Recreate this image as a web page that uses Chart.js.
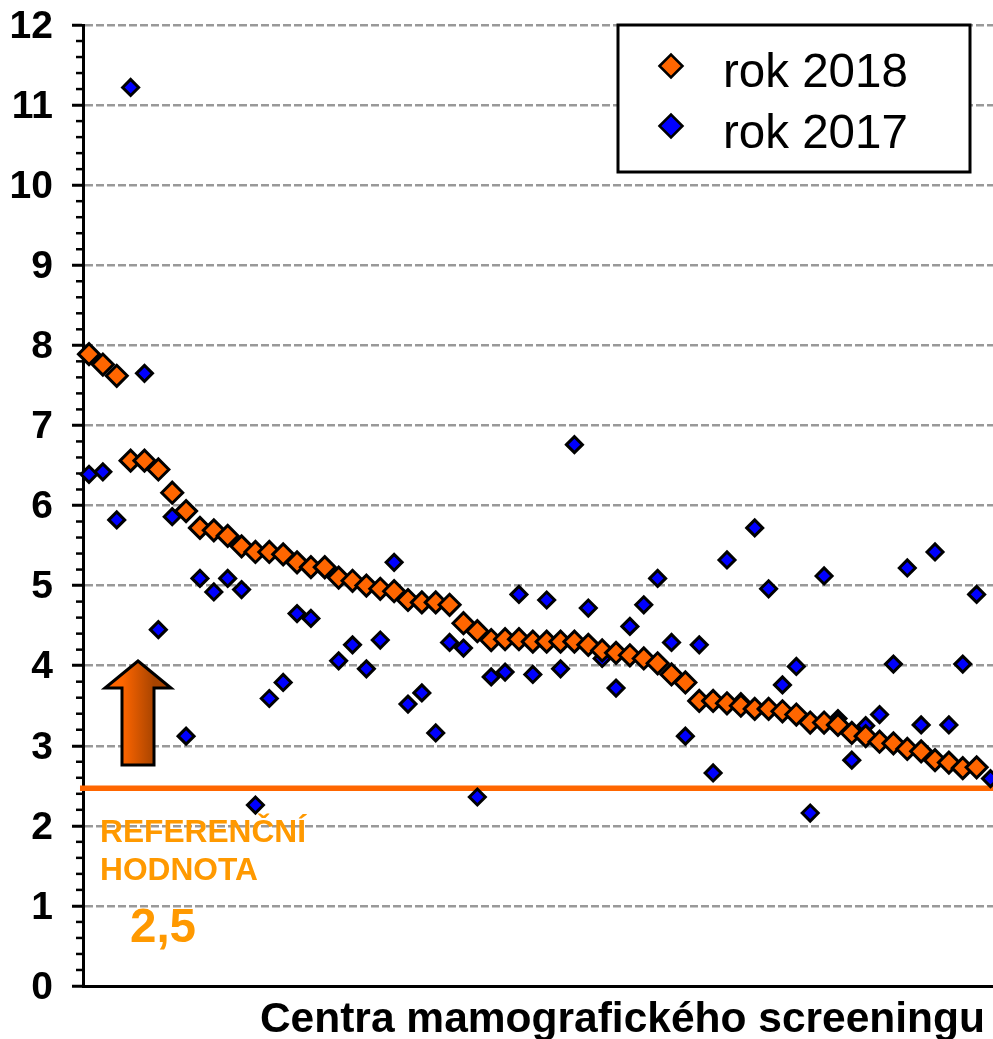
<!DOCTYPE html>
<html>
<head>
<meta charset="utf-8">
<title>Centra mamografického screeningu</title>
<script src="https://cdn.jsdelivr.net/npm/chart.js@4/dist/chart.umd.min.js"></script>
<style>
    html, body { margin: 0; padding: 0; background: #fff; overflow: hidden; }
    canvas { display: block; }
</style>
</head>
<body>
<canvas id="chart" width="993" height="1039"></canvas>
<script>
const seriesNames = ['rok 2018', 'rok 2017'];
const axisTitle = 'Centra mamografického screeningu';
const yTicks = [0, 1, 2, 3, 4, 5, 6, 7, 8, 9, 10, 11, 12];
const referenceValue = 2.47;
const referenceLabels = ['REFERENČNÍ', 'HODNOTA', '2,5'];

// one entry per centre, sorted by the 2018 value
const centres = [
    1, 2, 3, 4, 5, 6, 7, 8, 9, 10, 11, 12, 13, 14, 15, 16, 17, 18, 19, 20, 21, 22,
    23, 24, 25, 26, 27, 28, 29, 30, 31, 32, 33, 34, 35, 36, 37, 38, 39, 40, 41, 42, 43, 44,
    45, 46, 47, 48, 49, 50, 51, 52, 53, 54, 55, 56, 57, 58, 59, 60, 61, 62, 63, 64, 65, 66
];
const values2018 = [
    7.89, 7.76, 7.62, 6.56, 6.56, 6.45, 6.16, 5.93, 5.72, 5.69, 5.62, 5.49, 5.42, 5.42, 5.39, 5.29, 5.23, 5.23, 5.10, 5.06, 5.00, 4.96,
    4.93, 4.82, 4.79, 4.79, 4.76, 4.53, 4.43, 4.32, 4.33, 4.33, 4.30, 4.30, 4.30, 4.30, 4.26, 4.19, 4.16, 4.13, 4.09, 4.03, 3.89, 3.79,
    3.56, 3.56, 3.53, 3.50, 3.46, 3.46, 3.43, 3.39, 3.29, 3.29, 3.26, 3.16, 3.12, 3.05, 3.03, 2.96, 2.93, 2.82, 2.79, 2.72, 2.73, null
];
const values2017 = [
    6.39, 6.42, 5.82, 11.22, 7.65, 4.45, 5.86, 3.12, 5.09, 4.92, 5.09, 4.95, 2.26, 3.59, 3.79, 4.65, 4.59, 5.20, 4.06, 4.26, 3.96, 4.32,
    5.29, 3.52, 3.66, 3.16, 4.29, 4.22, 2.36, 3.86, 3.92, 4.89, 3.89, 4.82, 3.96, 6.76, 4.72, 4.09, 3.72, 4.49, 4.76, 5.09, 4.29, 3.12,
    4.26, 2.66, 5.32, 3.55, 5.72, 4.96, 3.76, 3.99, 2.16, 5.12, 3.34, 2.82, 3.25, 3.39, 4.02, 5.22, 3.26, 5.42, 3.26, 4.02, 4.89, 2.59
];

const ORANGE = '#ff6600';
const BLUE = '#0000ff';
const TEXT_ORANGE = '#ff9900';
const FONT = 'Arial, "Liberation Sans", sans-serif';

const toPoints = values => centres.map((c, i) => ({ x: c, y: values[i] }));

// small ticks between the whole numbers on the y axis
const minorTicks = {
    id: 'minorTicks',
    beforeDatasetsDraw(chart) {
        const { ctx, scales: { y } } = chart;
        ctx.save();
        ctx.strokeStyle = '#000';
        ctx.lineWidth = 2.5;
        for (let n = 0; n < yTicks[yTicks.length - 1] * 5; n++) {
            if (n % 5 === 0) continue;
            const py = y.getPixelForValue(n / 5);
            ctx.beginPath();
            ctx.moveTo(y.right - 7, py);
            ctx.lineTo(y.right, py);
            ctx.stroke();
        }
        ctx.restore();
    }
};

// arrow, reference text, axis title and legend box
const decorations = {
    id: 'decorations',
    afterDraw(chart) {
        const ctx = chart.ctx;
        ctx.save();

        const grad = ctx.createLinearGradient(122, 0, 154, 0);
        grad.addColorStop(0, '#ff6600');
        grad.addColorStop(1, '#a84400');
        ctx.beginPath();
        ctx.moveTo(138, 661);
        ctx.lineTo(171, 688);
        ctx.lineTo(154, 688);
        ctx.lineTo(154, 765);
        ctx.lineTo(122, 765);
        ctx.lineTo(122, 688);
        ctx.lineTo(105, 688);
        ctx.closePath();
        ctx.fillStyle = grad;
        ctx.fill();
        ctx.strokeStyle = '#000';
        ctx.lineWidth = 3;
        ctx.stroke();

        ctx.textBaseline = 'alphabetic';
        ctx.textAlign = 'left';
        ctx.fillStyle = TEXT_ORANGE;
        ctx.font = 'bold 31.7px ' + FONT;
        ctx.fillText(referenceLabels[0], 100, 842);
        ctx.fillText(referenceLabels[1], 100, 880);
        ctx.font = 'bold 47.5px ' + FONT;
        ctx.fillText(referenceLabels[2], 130, 942);

        ctx.fillStyle = '#000';
        ctx.textAlign = 'right';
        ctx.font = 'bold 42.5px ' + FONT;
        ctx.fillText(axisTitle, 985, 1032);

        ctx.fillStyle = '#fff';
        ctx.fillRect(618, 25, 352, 147);
        ctx.strokeStyle = '#000';
        ctx.lineWidth = 3;
        ctx.strokeRect(618, 25, 352, 147);

        const rows = [
            { color: ORANGE, py: 66, base: 87 },
            { color: BLUE, py: 126, base: 148 }
        ];
        ctx.textAlign = 'left';
        ctx.font = '47.5px ' + FONT;
        rows.forEach((row, i) => {
            ctx.fillStyle = row.color;
            ctx.strokeStyle = '#000';
            ctx.lineWidth = 2.5;
            Chart.helpers.drawPoint(ctx, { pointStyle: 'rectRot', radius: 11.5, borderWidth: 2.5 }, 671, row.py);
            ctx.fillStyle = '#000';
            ctx.fillText(seriesNames[i], 723, row.base);
        });

        ctx.restore();
    }
};

new Chart(document.getElementById('chart'), {
    type: 'scatter',
    data: {
        datasets: [
            {
                label: seriesNames[0],
                data: toPoints(values2018),
                pointStyle: 'rectRot',
                pointRadius: 10.5,
                pointBackgroundColor: ORANGE,
                pointBorderColor: '#000',
                pointBorderWidth: 3,
                clip: false
            },
            {
                label: seriesNames[1],
                data: toPoints(values2017),
                pointStyle: 'rectRot',
                pointRadius: 8,
                pointBackgroundColor: BLUE,
                pointBorderColor: '#000',
                pointBorderWidth: 3,
                clip: false
            },
            {
                label: 'referenční hodnota',
                data: [{ x: 0.35, y: referenceValue }, { x: 66.2, y: referenceValue }],
                showLine: true,
                pointRadius: 0,
                borderColor: ORANGE,
                borderWidth: 5.5,
                clip: false
            }
        ]
    },
    options: {
        responsive: false,
        animation: false,
        layout: { autoPadding: false, padding: { top: 25, right: 0, left: 0, bottom: 0 } },
        plugins: {
            legend: { display: false },
            tooltip: { enabled: false },
            title: { display: false }
        },
        scales: {
            x: {
                type: 'linear',
                min: 0.567,
                max: 66.18,
                ticks: { display: false },
                grid: { display: false },
                border: { display: true, color: '#000', width: 3 },
                afterFit(scale) { scale.height = 53; }
            },
            y: {
                min: yTicks[0],
                max: yTicks[yTicks.length - 1],
                afterBuildTicks(scale) { scale.ticks = yTicks.map(v => ({ value: v })); },
                ticks: {
                    color: '#000',
                    padding: 19,
                    labelOffset: 2,
                    font: { family: FONT, size: 39, weight: 'bold' }
                },
                grid: {
                    color: '#999999',
                    lineWidth: 2.5,
                    tickColor: '#000',
                    tickWidth: 3,
                    tickLength: 11,
                    tickBorderDash: []
                },
                border: { display: true, color: '#000', width: 3, dash: [8, 3] },
                afterFit(scale) {
                    scale.width = 83;
                    scale.paddingTop = 0; // label padding would push the plot down
                    scale.paddingBottom = 0;
                }
            }
        }
    },
    plugins: [minorTicks, decorations]
});
</script>
</body>
</html>
